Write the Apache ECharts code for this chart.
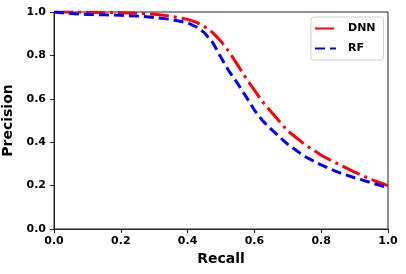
<!DOCTYPE html>
<html>
<head>
<meta charset="utf-8">
<script src="https://cdn.jsdelivr.net/npm/echarts@6/dist/echarts.min.js"></script>
<style>html,body{margin:0;padding:0;background:#fff;}#c{width:406px;height:274px;}</style>
</head>
<body>
<div id="c"></div>
<script>
const recall = [0, 0.05, 0.1, 0.15, 0.2, 0.25, 0.3, 0.35, 0.4, 0.425, 0.45, 0.475, 0.5, 0.525, 0.55, 0.575, 0.6, 0.625, 0.65, 0.7, 0.75, 0.8, 0.85, 0.9, 0.95, 1.0];
const dnnPrecision = [1.0, 1.0, 0.999, 0.998, 0.997, 0.994, 0.99, 0.981, 0.966, 0.953, 0.933, 0.905, 0.865, 0.815, 0.755, 0.695, 0.64, 0.585, 0.54, 0.452, 0.39, 0.34, 0.3, 0.262, 0.228, 0.2];
const rfPrecision = [1.0, 0.993, 0.989, 0.987, 0.985, 0.981, 0.975, 0.966, 0.95, 0.932, 0.905, 0.86, 0.79, 0.725, 0.67, 0.61, 0.548, 0.498, 0.46, 0.39, 0.335, 0.295, 0.262, 0.236, 0.213, 0.19];
const seriesNames = ['DNN', 'RF'];
const tickValues = [0, 0.2, 0.4, 0.6, 0.8, 1.0];

const chart = echarts.init(document.getElementById('c'), null, {renderer: 'canvas'});
const font = 'DejaVu Sans';
const axisCommon = {
  type: 'value', min: 0, max: 1, interval: 0.2,
  nameLocation: 'middle',
  nameTextStyle: {fontFamily: font, fontWeight: 'bold', fontSize: 14, color: '#000'},
  axisLine: {show: true, lineStyle: {color: '#222', width: 1}},
  axisTick: {show: true, length: 4, lineStyle: {color: '#222', width: 1}},
  axisLabel: {fontFamily: font, fontWeight: 'bold', fontSize: 11, color: '#000',
    formatter: v => v.toFixed(1)},
  splitLine: {show: false}
};
chart.setOption({
  animation: false,
  grid: {left: 54, right: 18, top: 12, bottom: 45, containLabel: false, outerBoundsMode: 'none',
    show: true, borderColor: '#222', borderWidth: 1, backgroundColor: '#fff'},
  xAxis: Object.assign({}, axisCommon, {name: 'Recall', nameGap: 22,
    axisLabel: Object.assign({}, axisCommon.axisLabel, {margin: 7})}),
  yAxis: Object.assign({}, axisCommon, {name: 'Precision', nameGap: 34,
    axisLabel: Object.assign({}, axisCommon.axisLabel, {margin: 8})}),
  legend: {
    data: seriesNames,
    orient: 'vertical',
    left: 311, top: 17,
    padding: [6, 8, 6, 3],
    itemWidth: 21, itemHeight: 10, itemGap: 9,
    borderColor: '#d0d0d0', borderWidth: 1, borderRadius: 3,
    backgroundColor: '#fff',
    itemStyle: {opacity: 0},
    textStyle: {fontFamily: font, fontWeight: 'bold', fontSize: 11, color: '#000', padding: [0, 0, 0, 7]}
  },
  series: [
    {
      name: seriesNames[0], type: 'line', symbol: 'none', smooth: false,
      data: recall.map((r, i) => [r, dnnPrecision[i]]),
      lineStyle: {color: '#ff0000', width: 3, type: [19, 5, 3, 5]},
      itemStyle: {color: '#ff0000'}, z: 2
    },
    {
      name: seriesNames[1], type: 'line', symbol: 'none', smooth: false,
      data: recall.map((r, i) => [r, rfPrecision[i]]),
      lineStyle: {color: '#0000ff', width: 3, type: [10, 5]},
      itemStyle: {color: '#0000ff'}, z: 3
    }
  ]
});
</script>
</body>
</html>
